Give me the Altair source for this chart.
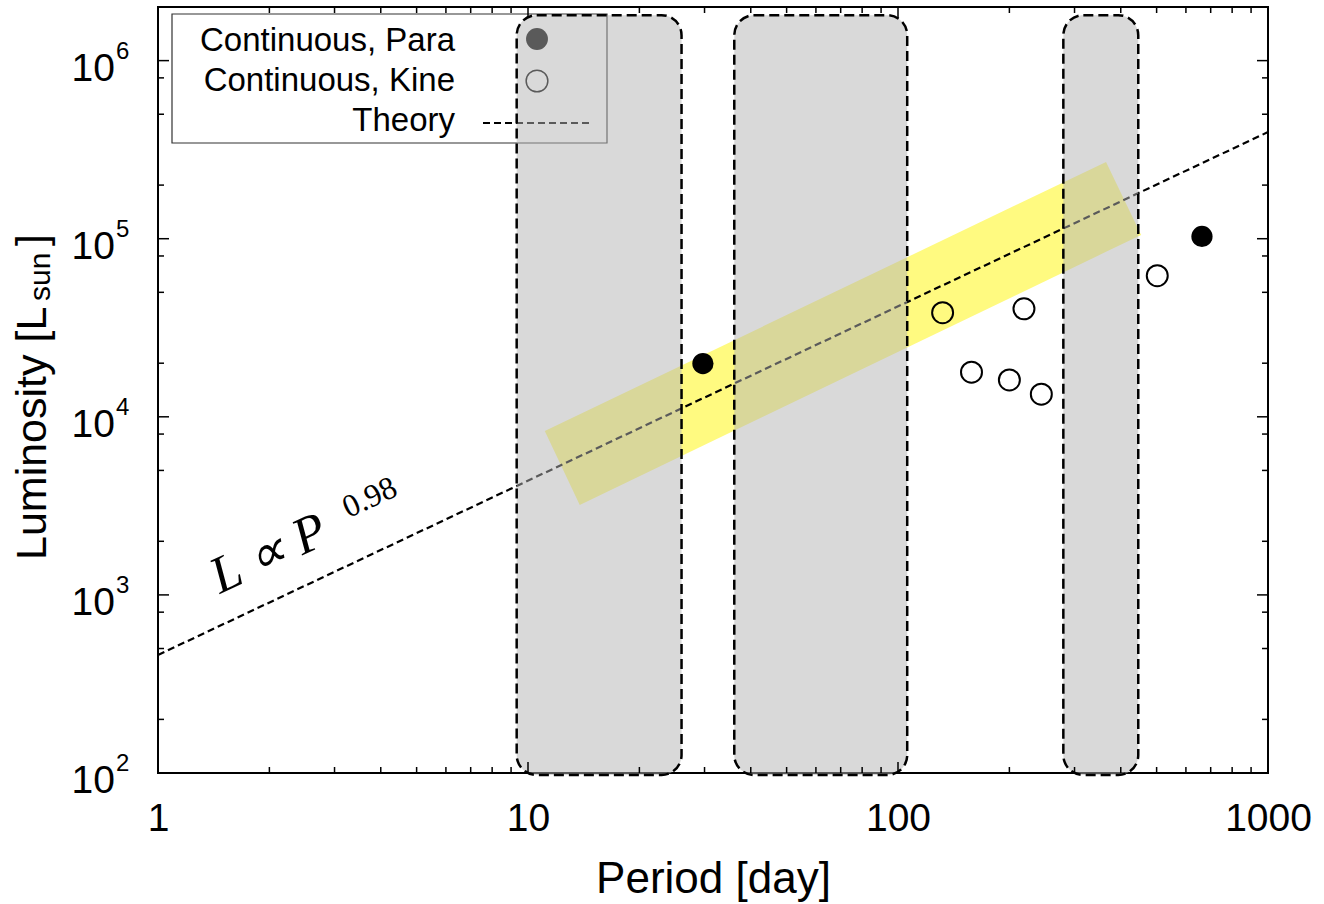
import altair as alt
import pandas as pd

# ---------------- data ----------------
para_P = [29.7, 663]
para_L = [19900, 103000]

kine_P = [132, 158, 200, 219, 244, 502]
kine_L = [38400, 17800, 16100, 40400, 13400, 62000]

theory_P = [1, 1000]
theory_L = [460, 397000]

box_P1 = [9.32, 36.1, 279.8]
box_P2 = [26.0, 105.9, 446.0]
box_Lbot = [97.4, 97.4, 97.4]
box_Ltop = [1.8e6, 1.8e6, 1.8e6]

band_P = [11.1, 13.8, 365, 454]
band_Llow = [8320, 3200, 84400, 105000]
band_Lhigh = [8320, 10340, 270000, 105000]

x_major = [1, 10, 100, 1000]
x_minor = [2, 3, 4, 5, 6, 7, 8, 9, 20, 30, 40, 50, 60, 70, 80, 90,
           200, 300, 400, 500, 600, 700, 800, 900]
y_major = [1e2, 1e3, 1e4, 1e5, 1e6]
y_exp = ["2", "3", "4", "5", "6"]
y_minor = [2e2, 5e2, 8e2, 2e3, 5e3, 8e3, 2e4, 5e4, 8e4, 2e5, 5e5, 8e5]

ann_P = [1.47, 3.27]
ann_L = [1012, 2692]
ann_text = ["L \u221d P", "0.98"]

# ---------------- styling ----------------
W, H = 1110, 766
FONT = "Liberation Sans"
SERIF = "Liberation Serif"

xs = alt.Scale(type="log", domain=[1, 1000], nice=False)
ys = alt.Scale(type="log", domain=[100, 2e6], nice=False)

xax = alt.Axis(values=x_major, format="d", labelFont=FONT, labelFontSize=39,
               labelColor="black", labelBaseline="alphabetic", labelPadding=57,
               labelFlush=False, labelOverlap=False,
               ticks=False, tickSize=0, domain=False, grid=False,
               title="Period [day]", titleFont=FONT, titleFontSize=44,
               titleFontWeight="normal", titleColor="black",
               titleBaseline="alphabetic", titleY=119)

one = pd.DataFrame({"a": [0]})

band_df = pd.DataFrame({"P": band_P, "lo": band_Llow, "hi": band_Lhigh})
theory_df = pd.DataFrame({"P": theory_P, "L": theory_L})
box_df = pd.DataFrame({"P1": box_P1, "P2": box_P2, "Lb": box_Lbot, "Lt": box_Ltop})
para_df = pd.DataFrame({"P": para_P, "L": para_L})
kine_df = pd.DataFrame({"P": kine_P, "L": kine_L})
xmaj_df = pd.DataFrame({"v": x_major})
xmin_df = pd.DataFrame({"v": x_minor})
ymaj_df = pd.DataFrame({"v": y_major, "e": y_exp, "b": ["10"] * len(y_major)})
ymin_df = pd.DataFrame({"v": y_minor})

X = lambda f: alt.X(f, type="quantitative", scale=xs, axis=xax)
Y = lambda f: alt.Y(f, type="quantitative", scale=ys, axis=None)

layers = []

# yellow band
layers.append(alt.Chart(band_df).mark_area(color="#fffa80", opacity=1, interpolate="linear")
              .encode(x=X("P"), y=Y("lo"), y2="hi:Q"))

# theory line
layers.append(alt.Chart(theory_df).mark_line(color="black", strokeDash=[7, 4], strokeWidth=2.2)
              .encode(x=X("P"), y=Y("L")))

# legend frame and entries (drawn beneath the grey boxes)
layers.append(alt.Chart(one).mark_rect(fill="white", stroke="#333333", strokeWidth=1.2)
              .encode(x=alt.value(14), x2=alt.value(449), y=alt.value(7), y2=alt.value(136)))
for txt, yy in [("Continuous, Para", 44), ("Continuous, Kine", 84), ("Theory", 124)]:
    layers.append(alt.Chart(one).mark_text(text=txt, align="right", baseline="alphabetic",
                                           font=FONT, fontSize=33, color="black")
                  .encode(x=alt.value(297), y=alt.value(yy)))
layers.append(alt.Chart(one).mark_point(shape="circle", filled=True, size=480, color="black", opacity=1)
              .encode(x=alt.value(379), y=alt.value(32)))
layers.append(alt.Chart(one).mark_point(shape="circle", filled=False, size=470, color="black",
                                        strokeWidth=1.5, opacity=1)
              .encode(x=alt.value(379), y=alt.value(74)))
layers.append(alt.Chart(one).mark_rule(color="black", strokeDash=[7, 4], strokeWidth=2)
              .encode(x=alt.value(325), x2=alt.value(434), y=alt.value(116)))

# grey boxes
layers.append(alt.Chart(box_df).mark_rect(cornerRadius=20, fill="#b3b3b3", fillOpacity=0.5,
                                          stroke="black", strokeWidth=2.5, strokeDash=[10, 5])
              .encode(x=X("P1"), x2="P2:Q", y=Y("Lb"), y2="Lt:Q"))

# data points
layers.append(alt.Chart(para_df).mark_circle(size=450, color="black", opacity=1)
              .encode(x=X("P"), y=Y("L")))
layers.append(alt.Chart(kine_df).mark_point(shape="circle", size=440, color="black",
                                            strokeWidth=2, opacity=1)
              .encode(x=X("P"), y=Y("L")))

# inner ticks on all four sides
for df, ln in [(xmaj_df, 11), (xmin_df, 6)]:
    layers.append(alt.Chart(df).mark_rule(color="black", strokeWidth=1.5)
                  .encode(x=X("v"), y=alt.value(H), y2=alt.value(H - ln)))
    layers.append(alt.Chart(df).mark_rule(color="black", strokeWidth=1.5)
                  .encode(x=X("v"), y=alt.value(0), y2=alt.value(ln)))
for df, ln in [(ymaj_df, 11), (ymin_df, 6)]:
    layers.append(alt.Chart(df).mark_rule(color="black", strokeWidth=1.5)
                  .encode(y=Y("v"), x=alt.value(0), x2=alt.value(ln)))
    layers.append(alt.Chart(df).mark_rule(color="black", strokeWidth=1.5)
                  .encode(y=Y("v"), x=alt.value(W), x2=alt.value(W - ln)))

# y tick labels 10^k
layers.append(alt.Chart(ymaj_df).mark_text(align="right", baseline="alphabetic", dy=20,
                                           font=FONT, fontSize=39, color="black")
              .encode(y=Y("v"), x=alt.value(-43), text="b:N"))
layers.append(alt.Chart(ymaj_df).mark_text(align="left", baseline="alphabetic", dy=-2,
                                           font=FONT, fontSize=24, color="black")
              .encode(y=Y("v"), x=alt.value(-42), text="e:N"))

# annotation L ∝ P^0.98
layers.append(alt.Chart(pd.DataFrame({"P": ann_P[:1], "L": ann_L[:1], "t": ann_text[:1]}))
              .mark_text(align="left", baseline="alphabetic", angle=335, font=SERIF,
                         fontStyle="italic", fontSize=52, color="black")
              .encode(x=X("P"), y=Y("L"), text="t:N"))
layers.append(alt.Chart(pd.DataFrame({"P": ann_P[1:], "L": ann_L[1:], "t": ann_text[1:]}))
              .mark_text(align="left", baseline="alphabetic", angle=335, font=SERIF,
                         fontSize=32, color="black")
              .encode(x=X("P"), y=Y("L"), text="t:N"))

# y axis title with subscript
for txt, xx, yy, fs in [("Luminosity [L", -112, 553, 43), ("sun", -108, 294, 30), ("]", -112, 239, 43)]:
    layers.append(alt.Chart(one).mark_text(text=txt, align="left", baseline="alphabetic", angle=270,
                                           font=FONT, fontSize=fs, color="black")
                  .encode(x=alt.value(xx), y=alt.value(yy)))

chart = (alt.layer(*layers)
         .properties(width=W, height=H, background="white",
                     autosize=alt.AutoSizeParams(type="none"),
                     padding={"left": 158, "top": 7, "right": 56, "bottom": 131})
         .configure_view(stroke="black", strokeWidth=2))

chart.save("out.html", embed_options={"renderer": "svg", "actions": False})
